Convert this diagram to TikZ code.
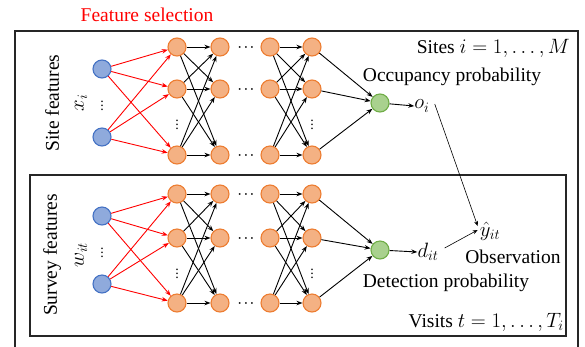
\documentclass[tikz,border=0pt]{standalone}
\usepackage{fontspec}
\setmainfont{Liberation Serif}
\usetikzlibrary{arrows.meta,calc}
\definecolor{orf}{HTML}{F4B183}
\definecolor{ord}{HTML}{ED7D31}
\definecolor{blf}{HTML}{8FAADC}
\definecolor{bld}{HTML}{4472C4}
\definecolor{grf}{HTML}{A9D18E}
\definecolor{grd}{HTML}{70AD47}
\definecolor{boxc}{HTML}{262626}
\definecolor{redc}{HTML}{FF0000}
\begin{document}
\begin{tikzpicture}[x=1pt,y=-1pt,
  font=\fontsize{19.5}{28}\selectfont,
  neuron/.style={circle,minimum size=18pt,inner sep=0pt,line width=1.1pt},
  orn/.style={neuron,fill=orf,draw=ord},
  bln/.style={neuron,fill=blf,draw=bld},
  grn/.style={neuron,fill=grf,draw=grd},
  redarr/.style={draw=redc,line width=0.9pt,-{Stealth[length=6pt,width=4.5pt]}},
  blkarr/.style={draw=black,line width=0.9pt,-{Stealth[length=6pt,width=4.5pt]}},
  thinarr/.style={draw=black,line width=0.6pt,-{Stealth[length=5pt,width=4pt]}},
  boxline/.style={draw=boxc,line width=1.4pt},
  hdots/.style={inner sep=0pt,anchor=base,font=\fontsize{12.5}{13}\selectfont\boldmath},
  vdotsn/.style={inner sep=0pt,font=\fontsize{14}{14}\selectfont\boldmath},
  lbl/.style={inner sep=0pt}
]
\useasboundingbox (0,0) rectangle (585,346);
\clip (0,0) rectangle (585,346);

% boxes
\draw[boxline] (15,360) -- (15,31) -- (578,31) -- (578,360);
\draw[boxline] (30,175) rectangle (566,336);

% title
\node[lbl,text=redc] (fs) at (147,15) {Feature selection};

% network builder
\foreach \p/\ya/\yb/\yc/\ba/\bb/\gy in {s/47/89/155/69/137/103, v/194/238/303/216/284/250}{
  \node[bln] (\p0-1) at (102,\ba) {};
  \node[bln] (\p0-2) at (102,\bb) {};
  \foreach \x/\l in {177/1,220/2,270/3,312/4}{
    \node[orn] (\p\l-1) at (\x,\ya) {};
    \node[orn] (\p\l-2) at (\x,\yb) {};
    \node[orn] (\p\l-3) at (\x,\yc) {};
  }
  \node[grn] (\p g) at (380,\gy) {};
  \foreach \i in {1,2}{\foreach \j in {1,2,3}{\draw[redarr] (\p0-\i) -- (\p1-\j);}}
  \foreach \i in {1,2,3}{\foreach \j in {1,2,3}{
    \draw[blkarr] (\p1-\i) -- (\p2-\j);
    \draw[blkarr] (\p3-\i) -- (\p4-\j);}
    \draw[blkarr] (\p4-\i) -- (\p g);}
  \node[vdotsn] (\p d0) at ($(\p0-1)!0.5!(\p0-2)$) {$\vdots$};
  \node[vdotsn] (\p d1) at ($(\p1-2)!0.5!(\p1-3)$) {$\vdots$};
  \node[vdotsn] (\p d4) at ($(\p4-2)!0.5!(\p4-3)$) {$\vdots$};
  \foreach \r in {1,2,3}{\node[hdots] (\p h\r) at ($(\p2-\r)!0.5!(\p3-\r)+(1,3)$) {$\cdots$};}
}

% side labels
\node[lbl,rotate=90] (sl) at (52,103) {Site features};
\node[lbl,rotate=90] (slx) at (81,103) {$x_i$};
\node[lbl,rotate=90] (vl) at (52,255) {Survey features};
\node[lbl,rotate=90] (vlw) at (81,255) {$w_{it}$};

% outputs
\node[lbl] (oi) at (422,106) {$o_i$};
\node[lbl] (dit) at (428,252) {$d_{it}$};
\node[lbl] (yh) at (490,231) {$\hat{y}_{it}$};
\draw[blkarr] (sg) -- (oi.west);
\draw[blkarr] (vg) -- (dit.west);
\draw[thinarr] ($(oi.east)+(5,-2)$) -- ($(yh.west)+(-2,-5)$);
\draw[thinarr] ($(dit.east)+(6,-4)$) -- ($(yh.west)+(-2,-1)$);

% texts
\node[lbl] (occ) at (452,77) {Occupancy probability};
\node[lbl,anchor=east] (sites) at (570,48) {Sites $i=1,\ldots,M$};
\node[lbl] (det) at (446,283) {Detection probability};
\node[lbl] (obs) at (513,257) {Observation};
\node[lbl,anchor=east] (vis) at (564,322) {Visits $t=1,\ldots,T_i$};
\end{tikzpicture}
\end{document}
